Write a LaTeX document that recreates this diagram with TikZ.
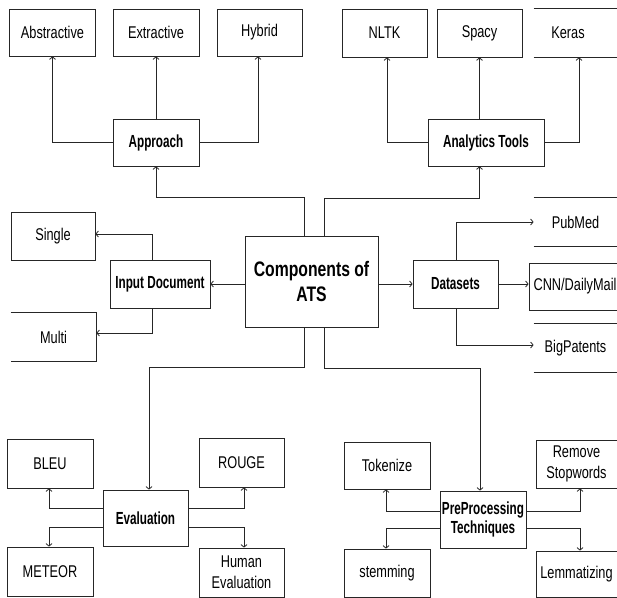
\documentclass[tikz,border=0pt]{standalone}
\usepackage{fontspec}
\setmainfont{Liberation Sans}
\newfontfamily\regf{Liberation Sans}[FakeStretch=0.75]
\newfontfamily\boldf{Liberation Sans}[FakeStretch=0.67]
\newfontfamily\bigf{Liberation Sans}[FakeStretch=0.75]
\usetikzlibrary{arrows.meta}
\tikzset{
  box/.style={draw=black!85, line width=0.8pt, inner sep=0pt, minimum width=86pt, minimum height=47pt, align=center, font=\regf\fontsize{17}{21}\selectfont},
  openbox/.style={box, draw=none},
  headbox/.style={box, font=\boldf\bfseries\fontsize{17.5}{19}\selectfont},
  edge/.style={draw=black!85, line width=0.8pt},
  arr/.style={edge, -{Straight Barb[length=2.5pt,width=6pt]}},
}
\begin{document}
\begin{tikzpicture}[x=1pt,y=-1pt]
\useasboundingbox (0,0) rectangle (617,597);
% top left group
\node[box] (abstractive) at (52.5,32.5) {Abstractive};
\node[box] (extractive) at (156,32.5) {Extractive};
\node[box, minimum width=85pt] (hybrid) at (259.5,32.5) {Hybrid};
\node[headbox] (approach) at (156,142.5) {Approach};
% top right group
\node[box, minimum width=85pt, minimum height=48pt] (nltk) at (384.5,33) {NLTK};
\node[box, minimum width=85pt, minimum height=48pt] (spacy) at (479.5,33) {Spacy};
\node[openbox, minimum width=68pt, minimum height=48pt] (keras) at (568,33) {Keras};
\draw[edge] (keras.north west) -- ++(90,0);
\draw[edge] (keras.south west) -- ++(90,0);
\node[headbox, minimum width=116pt] (analytics) at (486,142.5) {Analytics Tools};
% centre
\node[box, minimum width=133pt, minimum height=91pt, font=\bigf\bfseries\fontsize{21}{25}\selectfont] (comp) at (311.5,281.5) {Components of\\ATS};
% input document
\node[headbox, minimum width=100pt, minimum height=48pt] (inputdoc) at (160,284) {Input Document};
\node[box, minimum width=84pt, minimum height=48pt] (single) at (53,236) {Single};
\node[openbox, minimum width=85pt, minimum height=48pt] (multi) at (53.5,337) {Multi};
\draw[edge] (multi.north west) -- (multi.north east) -- (multi.south east) -- (multi.south west);
% datasets
\node[headbox, minimum width=85pt, minimum height=48pt] (datasets) at (455.5,284) {Datasets};
\node[openbox, minimum width=83pt, minimum height=48pt] (pubmed) at (575.5,222) {PubMed};
\draw[edge] (pubmed.north west) -- ++(90,0);
\draw[edge] (pubmed.south west) -- ++(90,0);
\node[box, minimum width=92pt, minimum height=47pt] (cnn) at (575,286.5) {CNN/DailyMail};
\node[openbox, minimum width=83pt, minimum height=48pt] (bigp) at (575.5,348) {BigPatents};
\draw[edge] (bigp.north west) -- ++(90,0);
\draw[edge] (bigp.south west) -- ++(90,0);
% evaluation
\node[headbox, minimum width=85pt, minimum height=56pt] (eval) at (145.5,518) {Evaluation};
\node[box, minimum height=49pt] (bleu) at (50,463.5) {BLEU};
\node[box, minimum width=85pt, minimum height=49pt] (rouge) at (241.5,462.5) {ROUGE};
\node[box, minimum height=49pt] (meteor) at (50,571.5) {METEOR};
\node[box, minimum width=85pt, minimum height=49pt] (human) at (241.5,572.5) {Human\\Evaluation};
% preprocessing
\node[headbox, minimum height=57pt] (preproc) at (483,519.5) {PreProcessing\\Techniques};
\node[box] (tokenize) at (387,465.5) {Tokenize};
\node[box, minimum width=81pt, minimum height=48pt] (remove) at (576.5,464) {Remove\\Stopwords};
\node[box, minimum height=48pt] (stemming) at (387,573) {stemming};
\node[box, minimum width=81pt, minimum height=46pt] (lemma) at (576.5,574) {Lemmatizing};
% connectors: approach
\draw[arr] (approach.west) -| (abstractive.south);
\draw[arr] (approach.north) -- (extractive.south);
\draw[arr] (approach.east) -| ([xshift=-1.5pt]hybrid.south);
% analytics
\draw[arr] (analytics.west) -| ([xshift=2.5pt]nltk.south);
\draw[arr] (analytics.north -| spacy.south) -- (spacy.south);
\draw[arr] (analytics.east) -| ([xshift=11pt]keras.south);
% components to groups
\draw[arr] ([xshift=-7.5pt]comp.north) -- ++(0,-38) -| (approach.south);
\draw[arr] ([xshift=12.5pt]comp.north) -- ++(0,-37) -| (analytics.south -| spacy.south);
\draw[arr] (comp.west |- inputdoc.east) -- (inputdoc.east);
\draw[arr] (comp.east |- datasets.west) -- (datasets.west);
\draw[arr] ([xshift=-7.5pt]comp.south) -- ++(0,40) -| ([xshift=3.5pt]eval.north);
\draw[arr] ([xshift=12.5pt]comp.south) -- ++(0,41) -| ([xshift=-3pt]preproc.north);
% input document
\draw[arr] ([xshift=-8pt]inputdoc.north) |- ([yshift=2pt]single.east);
\draw[arr] ([xshift=-8pt]inputdoc.south) |- ([yshift=4pt]multi.east);
% datasets
\draw[arr] ([xshift=0.5pt]datasets.north) |- (pubmed.west);
\draw[arr] (datasets.east) -- (datasets.east -| cnn.west);
\draw[arr] ([xshift=0.5pt]datasets.south) |- ([yshift=3pt]bigp.west);
% evaluation
\draw[arr] ([yshift=10pt]eval.west) -| ([xshift=-1pt]bleu.south);
\draw[arr] ([yshift=-9pt]eval.west) -| ([xshift=-1pt]meteor.north);
\draw[arr] ([yshift=10pt]eval.east) -| ([xshift=2.5pt]rouge.south);
\draw[arr] ([yshift=-9pt]eval.east) -| ([xshift=2.5pt]human.north);
% preprocessing
\draw[arr] ([yshift=8.5pt]preproc.west) -| ([xshift=-1pt]tokenize.south);
\draw[arr] ([yshift=-8.5pt]preproc.west) -| ([xshift=-1pt]stemming.north);
\draw[arr] ([yshift=8.5pt]preproc.east) -| ([xshift=3.5pt]remove.south);
\draw[arr] ([yshift=-8.5pt]preproc.east) -| ([xshift=3.5pt]lemma.north);
\end{tikzpicture}
\end{document}
